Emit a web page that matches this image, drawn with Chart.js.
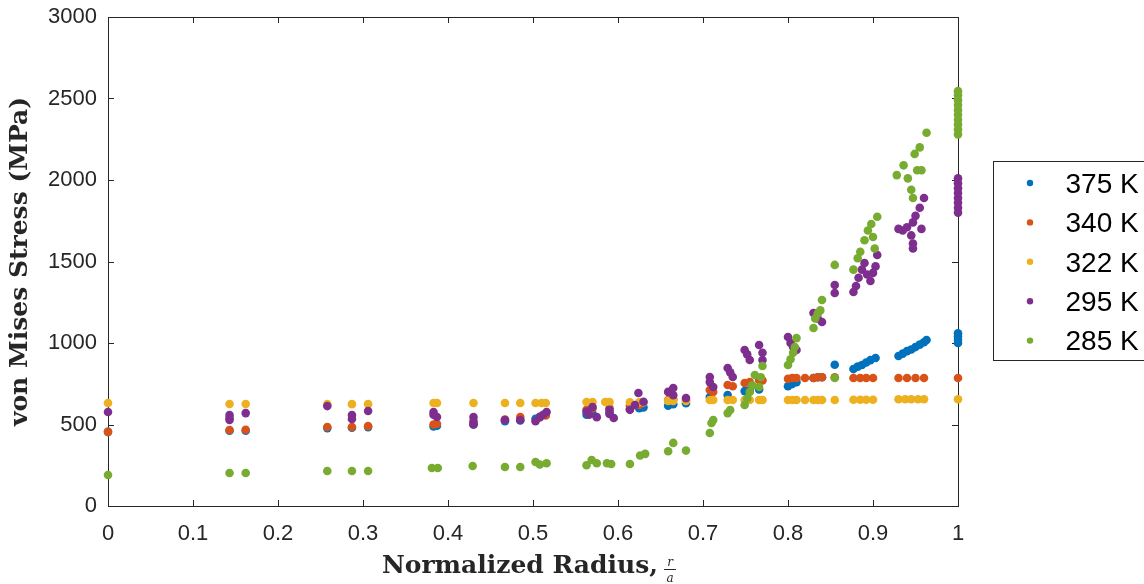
<!DOCTYPE html>
<html>
<head>
<meta charset="utf-8">
<script src="https://cdn.jsdelivr.net/npm/chart.js@4"></script>
<style>
  html, body { margin: 0; padding: 0; background: #fff; }
  canvas { display: block; }
</style>
</head>
<body>
<canvas id="stressChart" width="1144" height="584"></canvas>
<script>
// -------------------------------
// Données : [rayon normalisé, contrainte de von Mises (MPa)]
// -------------------------------
const pts375 = [
  [0,455],[0.143,462],[0.162,462],[0.258,478],[0.287,480],[0.306,484],[0.383,488],[0.387,492],
  [0.43,500],[0.467,520],[0.485,525],[0.503,535],[0.508,548],[0.515,560],[0.563,560],[0.57,568],
  [0.59,575],[0.614,595],[0.625,600],[0.63,605],[0.659,615],[0.665,625],[0.68,630],[0.708,669],
  [0.729,681],[0.749,705],[0.755,712],[0.766,715],[0.8,735],[0.805,748],[0.81,760],[0.83,785],
  [0.835,790],[0.84,790],[0.855,867],[0.877,840],[0.882,855],[0.887,865],[0.892,880],[0.897,895],
  [0.903,908],[0.93,920],[0.935,935],[0.94,950],[0.945,960],[0.95,975],[0.955,990],[0.96,1005],
  [0.963,1018],[1,1000],[1,1020],[1,1040],[1,1060]
];
const pts340 = [
  [0,455],[0.143,466],[0.162,468],[0.258,485],[0.287,485],[0.306,490],[0.383,500],[0.387,505],
  [0.43,505],[0.467,530],[0.485,545],[0.508,545],[0.515,555],[0.563,590],[0.57,600],[0.59,600],
  [0.614,615],[0.625,620],[0.659,650],[0.665,655],[0.68,650],[0.708,712],[0.712,700],[0.729,742],
  [0.735,735],[0.749,755],[0.755,760],[0.766,773],[0.77,770],[0.8,780],[0.805,785],[0.81,785],
  [0.82,785],[0.83,785],[0.835,790],[0.84,790],[0.855,790],[0.877,785],[0.885,785],[0.892,785],
  [0.9,785],[0.93,785],[0.94,785],[0.95,785],[0.96,785],[1,785]
];
const pts322 = [
  [0,632],[0.143,626],[0.162,626],[0.258,625],[0.287,625],[0.306,625],[0.383,632],[0.387,632],
  [0.43,632],[0.467,632],[0.485,632],[0.503,632],[0.51,632],[0.515,632],[0.563,638],[0.57,638],
  [0.585,638],[0.59,638],[0.614,636],[0.625,636],[0.63,636],[0.659,645],[0.665,645],[0.68,645],
  [0.708,650],[0.712,650],[0.729,650],[0.735,650],[0.749,650],[0.755,650],[0.766,650],[0.77,650],
  [0.8,650],[0.805,650],[0.81,650],[0.82,650],[0.83,650],[0.835,650],[0.84,650],[0.855,650],
  [0.877,652],[0.885,652],[0.892,652],[0.9,652],[0.93,655],[0.938,655],[0.945,655],[0.953,655],
  [0.96,655],[1,655]
];
const pts295 = [
  [0,577],[0.143,558],[0.143,540],[0.143,528],[0.162,570],[0.258,613],[0.287,558],[0.287,534],
  [0.306,583],[0.383,577],[0.383,560],[0.387,546],[0.43,546],[0.43,520],[0.43,500],[0.467,528],
  [0.485,528],[0.503,520],[0.508,545],[0.512,560],[0.516,577],[0.563,580],[0.566,560],[0.57,607],
  [0.575,545],[0.59,590],[0.59,565],[0.595,540],[0.614,590],[0.62,620],[0.624,693],[0.63,640],
  [0.659,700],[0.665,724],[0.665,680],[0.68,662],[0.708,791],[0.708,760],[0.712,730],[0.729,847],
  [0.732,820],[0.735,791],[0.749,957],[0.752,930],[0.755,896],[0.766,988],[0.77,940],[0.77,896],
  [0.8,1037],[0.803,1000],[0.806,975],[0.81,957],[0.83,1184],[0.835,1150],[0.84,1129],[0.855,1356],
  [0.855,1307],[0.877,1313],[0.88,1350],[0.883,1400],[0.887,1450],[0.89,1491],[0.893,1420],[0.897,1380],
  [0.9,1430],[0.903,1470],[0.905,1540],[0.93,1700],[0.935,1690],[0.94,1710],[0.945,1660],[0.947,1740],
  [0.947,1610],[0.947,1580],[0.95,1780],[0.955,1830],[0.957,1700],[0.96,1890],[1,1800],[1,1830],
  [1,1860],[1,1890],[1,1920],[1,1950],[1,1980],[1,2010]
];
const pts285 = [
  [0,190],[0.143,202],[0.162,202],[0.258,215],[0.287,215],[0.306,215],[0.381,233],[0.388,233],
  [0.429,245],[0.467,239],[0.485,239],[0.503,270],[0.508,255],[0.516,262],[0.563,250],[0.569,282],
  [0.575,262],[0.587,262],[0.592,258],[0.614,258],[0.626,310],[0.632,320],[0.659,336],[0.665,387],
  [0.68,340],[0.708,448],[0.71,509],[0.712,528],[0.729,570],[0.732,589],[0.749,620],[0.752,660],
  [0.755,700],[0.758,740],[0.761,804],[0.766,730],[0.768,790],[0.77,859],[0.8,865],[0.803,900],
  [0.806,940],[0.808,975],[0.81,1030],[0.83,1092],[0.832,1150],[0.835,1180],[0.838,1200],[0.84,1264],
  [0.855,785],[0.855,1479],[0.877,1450],[0.882,1520],[0.885,1560],[0.89,1630],[0.894,1690],[0.898,1730],
  [0.9,1650],[0.902,1580],[0.905,1775],[0.928,2030],[0.936,2090],[0.941,2010],[0.945,1940],[0.947,1890],
  [0.949,2160],[0.952,2060],[0.955,2200],[0.957,2060],[0.963,2290],[1,2280],[1,2310],[1,2340],
  [1,2370],[1,2400],[1,2430],[1,2460],[1,2490],[1,2520],[1,2545]
];

const seriesLabels = ['375 K', '340 K', '322 K', '295 K', '285 K'];
const seriesColors = ['#0072BD', '#D95319', '#EDB120', '#7E2F8E', '#77AC30'];
const seriesPoints = [pts375, pts340, pts322, pts295, pts285];

const xTitleText = 'Normalized Radius,   ';
const yTitleText = 'von Mises Stress (MPa)';
const axisColor = '#262626';
const titleFont = { family: '"DejaVu Serif", serif', weight: 'bold', size: 25 };

// Cadre complet + graduations vers l'intérieur (style MATLAB)
const axisBox = {
  id: 'axisBox',
  beforeDatasetsDraw(chart) {
    const { ctx, chartArea: a, scales } = chart;
    const len = 6;
    ctx.save();
    ctx.strokeStyle = axisColor;
    ctx.lineWidth = 1;
    ctx.strokeRect(a.left + 0.5, a.top + 0.5, a.right - a.left, a.bottom - a.top);
    ctx.beginPath();
    scales.x.ticks.forEach(t => {
      const px = Math.round(scales.x.getPixelForValue(t.value)) + 0.5;
      ctx.moveTo(px, a.bottom); ctx.lineTo(px, a.bottom - len);
      ctx.moveTo(px, a.top); ctx.lineTo(px, a.top + len);
    });
    scales.y.ticks.forEach(t => {
      const py = Math.round(scales.y.getPixelForValue(t.value)) + 0.5;
      ctx.moveTo(a.left, py); ctx.lineTo(a.left + len, py);
      ctx.moveTo(a.right, py); ctx.lineTo(a.right - len, py);
    });
    ctx.stroke();
    ctx.restore();
  }
};

// Légende encadrée à droite + fraction r/a du titre de l'axe x
const legendAndFraction = {
  id: 'legendAndFraction',
  afterDraw(chart) {
    const { ctx, chartArea: a } = chart;
    ctx.save();
    // légende
    const bx = a.right + 35.5, by = 161.5;
    ctx.fillStyle = '#fff';
    ctx.fillRect(bx, by, 220, 199);
    ctx.strokeStyle = axisColor;
    ctx.lineWidth = 1;
    ctx.strokeRect(bx, by, 220, 199);
    ctx.font = '28px "Liberation Sans", Arial, sans-serif';
    ctx.textBaseline = 'middle';
    ctx.textAlign = 'left';
    chart.data.datasets.forEach((ds, i) => {
      const y = 183 + i * 39.4;
      ctx.fillStyle = ds.backgroundColor;
      ctx.beginPath();
      ctx.arc(bx + 36.5, y, 3.2, 0, Math.PI * 2);
      ctx.fill();
      ctx.fillStyle = '#000';
      ctx.fillText(ds.label, bx + 72, y + 2);
    });
    // fraction r/a
    ctx.font = 'bold 25px "DejaVu Serif", serif';
    const full = ctx.measureText(xTitleText).width;
    const main = ctx.measureText(xTitleText.trimEnd()).width;
    const cx = (a.left + a.right) / 2;
    const fx = cx - full / 2 + main + 6;
    ctx.font = 'italic 12px "DejaVu Serif", serif';
    ctx.fillStyle = axisColor;
    ctx.textAlign = 'center';
    ctx.textBaseline = 'alphabetic';
    ctx.fillText('r', fx + 6, 566);
    ctx.fillText('a', fx + 6, 582);
    ctx.fillRect(fx, 569, 12, 1);
    ctx.restore();
  }
};

const ctxScatter = document.getElementById('stressChart').getContext('2d');
new Chart(ctxScatter, {
  type: 'scatter',
  data: {
    datasets: seriesLabels.map((label, i) => ({
      label: label,
      data: seriesPoints[i].map(p => ({ x: p[0], y: p[1] })),
      backgroundColor: seriesColors[i],
      borderWidth: 0,
      pointRadius: 4.3,
      pointHoverRadius: 4.3,
      clip: false,
      order: seriesLabels.length - i   // le dernier tracé passe au-dessus
    }))
  },
  options: {
    responsive: false,
    animation: false,
    events: [],
    layout: { padding: { top: 17, right: 186, left: 0, bottom: 0 } },
    plugins: {
      legend: { display: false },
      tooltip: { enabled: false }
    },
    scales: {
      x: {
        type: 'linear',
        min: 0,
        max: 1,
        afterFit: s => { s.height = 78; s.paddingLeft = 0; s.paddingRight = 0; },
        grid: { display: false, drawTicks: false },
        border: { display: true, color: axisColor },
        ticks: {
          stepSize: 0.1,
          padding: 15,
          color: axisColor,
          font: { family: '"Liberation Sans", Arial, sans-serif', size: 22 },
          callback: v => String(+v.toFixed(1))
        },
        title: {
          display: true,
          text: xTitleText,
          color: axisColor,
          font: titleFont,
          padding: { top: 0, bottom: 3 }
        }
      },
      y: {
        type: 'linear',
        min: 0,
        max: 3000,
        afterFit: s => { s.width = 108; s.paddingTop = 0; s.paddingBottom = 0; },
        grid: { display: false, drawTicks: false },
        border: { display: true, color: axisColor },
        ticks: {
          stepSize: 500,
          padding: 11,
          color: axisColor,
          font: { family: '"Liberation Sans", Arial, sans-serif', size: 22 },
          callback: v => String(v)
        },
        title: {
          display: true,
          text: yTitleText,
          color: axisColor,
          font: titleFont,
          padding: { top: 5, bottom: 0 }
        }
      }
    }
  },
  plugins: [axisBox, legendAndFraction]
});
</script>
</body>
</html>
